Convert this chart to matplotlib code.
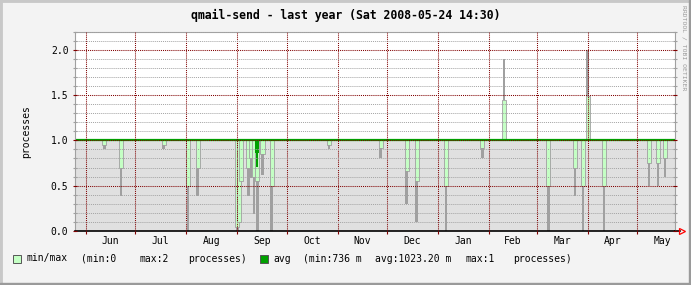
import pandas as pd
import matplotlib.pyplot as plt
from matplotlib.patches import Rectangle
from matplotlib.ticker import MultipleLocator, FixedLocator, NullFormatter, FixedFormatter
import matplotlib.dates as mdates

plt.rcParams['font.family'] = ['DejaVu Sans Mono', 'DejaVu Sans']

# graph window (one year up to Sat 2008-05-24 14:30)
t_start = pd.Timestamp('2007-05-25 12:00')
t_end = pd.Timestamp('2008-05-23 22:00')

avg_level = 1.0

# moments where the process count fell below 1
dip_times = pd.to_datetime([
    '2007-06-12 07:00', '2007-06-22 10:00', '2007-07-18 09:00', '2007-08-02 07:00',
    '2007-08-08 00:30', '2007-09-01 02:00', '2007-09-01 23:00', '2007-09-03 12:00',
    '2007-09-07 18:00', '2007-09-09 06:00', '2007-09-11 02:00', '2007-09-13 05:00',
    '2007-09-16 09:00', '2007-09-21 23:00', '2007-10-26 22:00', '2007-11-27 04:00',
    '2007-12-12 23:00', '2007-12-19 00:30', '2008-01-05 19:00', '2008-01-27 21:00',
    '2008-03-07 23:00', '2008-03-24 04:00', '2008-03-29 00:30', '2008-04-10 18:00',
    '2008-05-08 02:00', '2008-05-13 18:00', '2008-05-17 19:00',
])
dip_green_low = [0.95, 0.70, 0.95, 0.50, 0.70, 0.04, 0.10, 0.55, 0.70, 0.80, 0.60, 0.55,
                 0.85, 0.50, 0.95, 0.91, 0.66, 0.55, 0.50, 0.91, 0.50, 0.70, 0.50, 0.50,
                 0.75, 0.75, 0.80]
dip_grey_low = [0.90, 0.39, 0.90, 0.00, 0.39, 0.00, 0.10, 0.55, 0.39, 0.58, 0.19, 0.00,
                0.62, 0.00, 0.90, 0.80, 0.30, 0.10, 0.00, 0.80, 0.00, 0.39, 0.00, 0.00,
                0.50, 0.50, 0.60]

# moments with 2 processes
spike_times = pd.to_datetime(['2008-02-09 22:00', '2008-03-31 21:00'])
spike_green_high = [1.45, 1.49]
spike_grey_high = [1.90, 2.00]

# the avg line dip in September
avg_dip_times = pd.to_datetime(['2007-09-13 01:00', '2007-09-13 01:00'])
avg_dip_low = [0.86, 0.71]

month_starts = pd.date_range('2007-06-01', '2008-05-01', freq='MS')
month_labels = ['Jun', 'Jul', 'Aug', 'Sep', 'Oct', 'Nov', 'Dec', 'Jan', 'Feb', 'Mar', 'Apr', 'May']

W, H = 691, 285
fig = plt.figure(figsize=(W / 100, H / 100), dpi=100, facecolor='#f3f3f3')

# 3d frame around the image
fig.patches.append(Rectangle((0, 0), 1, 1, transform=fig.transFigure, fill=False,
                             edgecolor='#c8c8c8', linewidth=3.5, zorder=0))
fig.patches.append(Rectangle((0, 0), 1, 2 / H, transform=fig.transFigure,
                             color='#9a9a9a', zorder=1))
fig.patches.append(Rectangle((1 - 2 / W, 0), 2 / W, 1, transform=fig.transFigure,
                             color='#9a9a9a', zorder=1))

ax = fig.add_axes([75 / W, (H - 231) / H, 600 / W, 199.5 / H])
ax.set_facecolor('white')

grey_fill = '#e0e0e0'
light_green = '#c4ffc4'
grey_line = '#a0a0a0'
dark_green = '#00a000'
mgrid = '#800000'

ax.fill_between([t_start, t_end], 0, avg_level, color=grey_fill, linewidth=0, zorder=0.5)

green_h = [avg_level - g for g in dip_green_low]
ax.bar(dip_times, green_h, bottom=dip_green_low, width=2.6, color=light_green,
       edgecolor=grey_line, linewidth=0.6, zorder=1)
grey_h = [g - m for g, m in zip(dip_green_low, dip_grey_low)]
ax.bar(dip_times, grey_h, bottom=dip_grey_low, width=1.5, color=grey_line,
       linewidth=0, zorder=1)

ax.bar(spike_times, [h - avg_level for h in spike_green_high], bottom=avg_level,
       width=2.6, color=light_green, edgecolor=grey_line, linewidth=0.6, zorder=1)
ax.bar(spike_times, [g - h for g, h in zip(spike_grey_high, spike_green_high)],
       bottom=spike_green_high, width=1.5, color=grey_line, linewidth=0, zorder=1)

ax.axhline(avg_level, color=dark_green, linewidth=1.6, zorder=1.5)
ax.bar(avg_dip_times, [avg_level - v for v in avg_dip_low], bottom=avg_dip_low,
       width=[2.6, 1.3], color=dark_green, linewidth=0, zorder=1.6)

ax.set_xlim(t_start, t_end)
ax.set_ylim(0, 2.2)

# grid
dot = (0, (1, 1))
ax.set_axisbelow(False)
ax.yaxis.set_major_locator(MultipleLocator(0.5))
ax.yaxis.set_minor_locator(MultipleLocator(0.1))
ax.yaxis.set_major_formatter(lambda v, p: f'{v:.1f}')
ax.grid(which='minor', axis='y', color='#a4a4a4', linestyle=dot, linewidth=0.7)
ax.grid(which='major', axis='y', color=mgrid, linestyle=dot, linewidth=0.75)

month_mids = [s + (e - s) / 2 for s, e in
              zip(month_starts, list(month_starts[1:]) + [pd.Timestamp('2008-06-01')])]
ax.xaxis.set_major_locator(FixedLocator(mdates.date2num(month_starts)))
ax.xaxis.set_major_formatter(NullFormatter())
ax.xaxis.set_minor_locator(FixedLocator(mdates.date2num(month_mids)))
ax.xaxis.set_minor_formatter(FixedFormatter(month_labels))
ax.grid(which='major', axis='x', color=mgrid, linestyle=dot, linewidth=0.75)

ax.tick_params(axis='x', which='major', direction='out', length=2, color=mgrid, width=0.8)
ax.tick_params(axis='x', which='minor', length=0, pad=3.5, labelsize=7, labelcolor='black')
ax.tick_params(axis='y', which='major', direction='inout', length=3, color=mgrid, width=0.8,
               left=True, right=True, pad=3.2, labelsize=7)
ax.tick_params(axis='y', which='minor', direction='inout', length=3, color=grey_line, width=0.8,
               left=True, right=True)

for side in ['left', 'right', 'top']:
    ax.spines[side].set_color(grey_line)
    ax.spines[side].set_linewidth(0.8)
ax.spines['bottom'].set_color('black')
ax.spines['bottom'].set_linewidth(1.2)
ax.plot([1.0, 1.008], [0, 0], color='black', linewidth=1.2, transform=ax.transAxes,
        clip_on=False)
ax.plot([1.011], [0], marker='>', markersize=5, mfc='none', mec='red', mew=0.9,
        transform=ax.transAxes, clip_on=False)

ax.set_ylabel('processes', fontsize=7, labelpad=14)

fig.text(345.5 / W, 1 - 15 / H, 'qmail-send - last year (Sat 2008-05-24 14:30)',
         ha='center', va='center', fontsize=8.3, fontweight='bold')
fig.text(684 / W, 1 - 5 / H, 'RRDTOOL / TOBI OETIKER', rotation=270, ha='center',
         va='top', fontsize=4.6, color='#999999')

# legend row
def ftext(x, s):
    fig.text(x / W, 1 - 258.5 / H, s, ha='left', va='center', fontsize=7)

fig.patches.append(Rectangle((12.5 / W, 1 - 262.5 / H), 8 / W, 8 / H, transform=fig.transFigure,
                             facecolor=light_green, edgecolor='#555555', linewidth=0.7))
fig.patches.append(Rectangle((259.5 / W, 1 - 262.5 / H), 8 / W, 8 / H, transform=fig.transFigure,
                             facecolor=dark_green, edgecolor='#555555', linewidth=0.7))
ftext(26.7, 'min/max')
ftext(80.7, '(min:0')
ftext(140, 'max:2')
ftext(187.7, 'processes)')
ftext(273.3, 'avg')
ftext(302.7, '(min:736 m')
ftext(375, 'avg:1023.20 m')
ftext(465, 'max:1')
ftext(512.7, 'processes)')

fig.savefig('out.png', dpi=100, facecolor=fig.get_facecolor())
